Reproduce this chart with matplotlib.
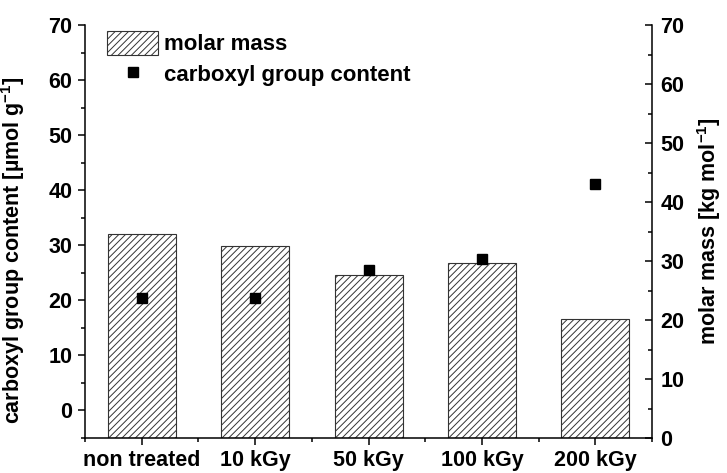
import numpy as np
import matplotlib.pyplot as plt
from matplotlib.ticker import MultipleLocator

plt.rcParams.update({
    'font.family': ['Liberation Sans', 'DejaVu Sans'],
    'font.weight': 'bold',
    'axes.labelweight': 'bold',
    'font.size': 15.5,
    'mathtext.fontset': 'custom',
    'mathtext.rm': 'Liberation Sans:bold',
    'mathtext.bf': 'Liberation Sans:bold',
    'mathtext.default': 'bf',
    'hatch.linewidth': 0.7,
    'hatch.color': '#222222',
})

# data
categories = ["non treated", "10 kGy", "50 kGy", "100 kGy", "200 kGy"]
molar_mass = [34.5, 32.5, 27.6, 29.6, 20.2]        # kg/mol, right axis
carboxyl = [20.4, 20.5, 25.6, 27.6, 41.1]          # umol/g, left axis

x = np.arange(len(categories))

fig = plt.figure(figsize=(7.27, 4.73), dpi=100)
ax = fig.add_axes([0.117, 0.074, 0.780, 0.873])
ax2 = ax.twinx()

# bars on the right axis, squares on the left axis drawn over them
ax.set_zorder(ax2.get_zorder() + 1)
ax.patch.set_visible(False)

bars = ax2.bar(x, molar_mass, width=0.6, color='white', edgecolor='#333333',
               linewidth=0.8, hatch='/////', label='molar mass')
pts, = ax.plot(x, carboxyl, 's', color='black', markersize=6.5,
               label='carboxyl group content')

ax.set_xlim(-0.5, 4.5)
ax.set_ylim(-5, 70)
ax2.set_ylim(0, 70)

ax.set_xticks(x)
ax.set_xticklabels(categories)
ax.xaxis.set_minor_locator(MultipleLocator(1, offset=0.5))
ax.yaxis.set_major_locator(MultipleLocator(10))
ax.yaxis.set_minor_locator(MultipleLocator(5))
ax2.yaxis.set_major_locator(MultipleLocator(10))
ax2.yaxis.set_minor_locator(MultipleLocator(5))

for a in (ax, ax2):
    a.spines['top'].set_visible(False)
    for s in a.spines.values():
        s.set_linewidth(1.1)
ax2.spines['left'].set_visible(False)
ax2.spines['bottom'].set_visible(False)
ax.spines['right'].set_visible(False)

ax.tick_params(which='major', direction='out', length=5, width=1.1, labelsize=15.5, pad=4)
ax.tick_params(which='minor', direction='out', length=3, width=1.1)
ax2.tick_params(which='major', direction='in', length=5, width=1.1, labelsize=15.5, pad=6)
ax2.tick_params(which='minor', direction='in', length=3, width=1.1)

ax.set_ylabel(r'carboxyl group content [µmol g$^{-1}$]', fontsize=15.5)
ax.yaxis.set_label_coords(-0.102, 0.455)
ax2.set_ylabel(r'molar mass [kg mol$^{-1}$]', fontsize=15.5, labelpad=8)

ax.legend([bars, pts], ['molar mass', 'carboxyl group content'],
          loc='upper left', bbox_to_anchor=(0.004, 1.035), frameon=False,
          fontsize=16, handlelength=2.3, handleheight=1.3,
          handletextpad=0.25, labelspacing=0.3)

fig.savefig('out.png', dpi=100)
